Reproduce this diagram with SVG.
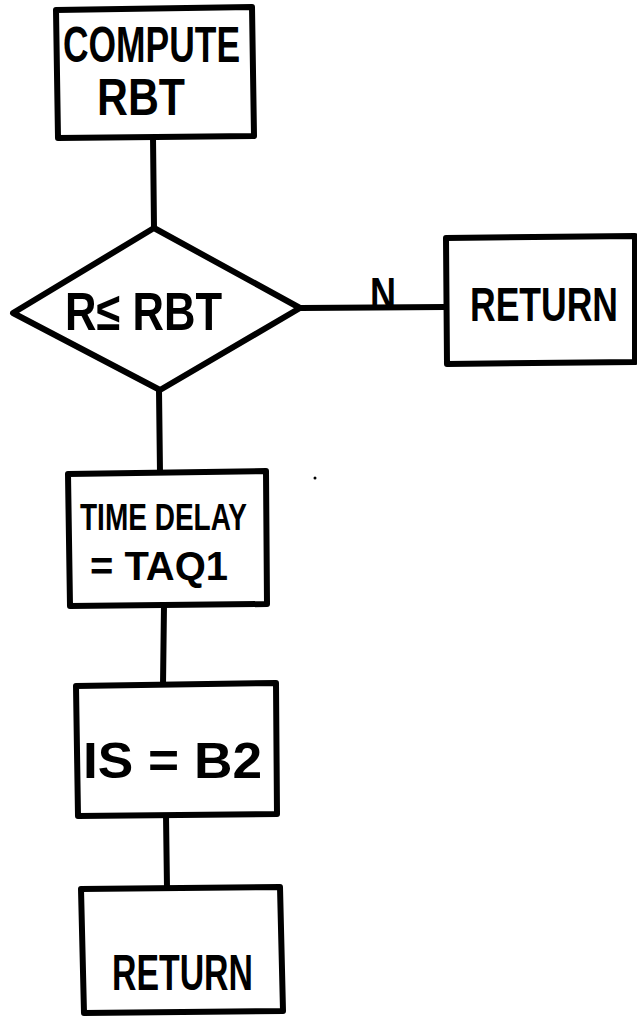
<svg xmlns="http://www.w3.org/2000/svg" width="637" height="1020" viewBox="0 0 637 1020">
  <style>
    .shape { fill: #ffffff; stroke: #000000; stroke-width: 6; stroke-linejoin: round; stroke-linecap: round; }
    .wire { fill: none; stroke: #000000; stroke-width: 6; stroke-linecap: round; }
    .label { font-family: "Liberation Sans", Arial, sans-serif; font-weight: bold; fill: #000000; }
  </style>
  <rect width="637" height="1020" fill="#ffffff"/>

  <!-- connecting lines -->
  <g id="connectors">
    <path class="wire" d="M153,137 L154,228"/>
    <path class="wire" d="M301,308 L445,307"/>
    <path class="wire" d="M159,390 L160,473"/>
    <path class="wire" d="M164,605 L163,685"/>
    <path class="wire" d="M166,815 L167,888"/>
    <text class="label" x="370" y="309" font-size="44" textLength="26" lengthAdjust="spacingAndGlyphs">N</text>
  </g>

  <g id="compute-rbt">
    <path class="shape" d="M56,10 L252,7 L254,136 L58,138 Z"/>
    <text class="label" x="63" y="62" font-size="50" textLength="177" lengthAdjust="spacingAndGlyphs">COMPUTE</text>
    <text class="label" x="97" y="115" font-size="52" textLength="88" lengthAdjust="spacingAndGlyphs">RBT</text>
  </g>

  <g id="decision">
    <path class="shape" d="M13,313 L154,228 L300,308 L160,390 Z"/>
    <text class="label" x="65" y="330" font-size="54" textLength="157" lengthAdjust="spacingAndGlyphs">R≤ RBT</text>
  </g>

  <g id="return-no">
    <path class="shape" d="M446,238 L635,236 L635,362 L447,364 Z"/>
    <!-- narrow upright lettering: a smaller size stretched vertically -->
    <text class="label" transform="translate(470,321) scale(1,1.35)" x="0" y="0" font-size="36" textLength="148" lengthAdjust="spacingAndGlyphs">RETURN</text>
  </g>

  <g id="time-delay">
    <path class="shape" d="M68,474 L266,471 L267,604 L70,606 Z"/>
    <text class="label" x="80" y="530" font-size="36" textLength="167" lengthAdjust="spacingAndGlyphs">TIME DELAY</text>
    <text class="label" x="90" y="580" font-size="40" textLength="138" lengthAdjust="spacingAndGlyphs">= TAQ1</text>
  </g>

  <g id="set-is">
    <path class="shape" d="M76,686 L276,683 L277,814 L78,816 Z"/>
    <text class="label" x="83" y="778" font-size="50" textLength="179" lengthAdjust="spacingAndGlyphs">IS = B2</text>
  </g>

  <g id="return-end">
    <path class="shape" d="M81,889 L280,887 L283,1011 L84,1013 Z"/>
    <text class="label" x="112" y="990" font-size="50" textLength="141" lengthAdjust="spacingAndGlyphs">RETURN</text>
  </g>

  <circle cx="315" cy="478" r="1.5" fill="#000000"/>
</svg>
